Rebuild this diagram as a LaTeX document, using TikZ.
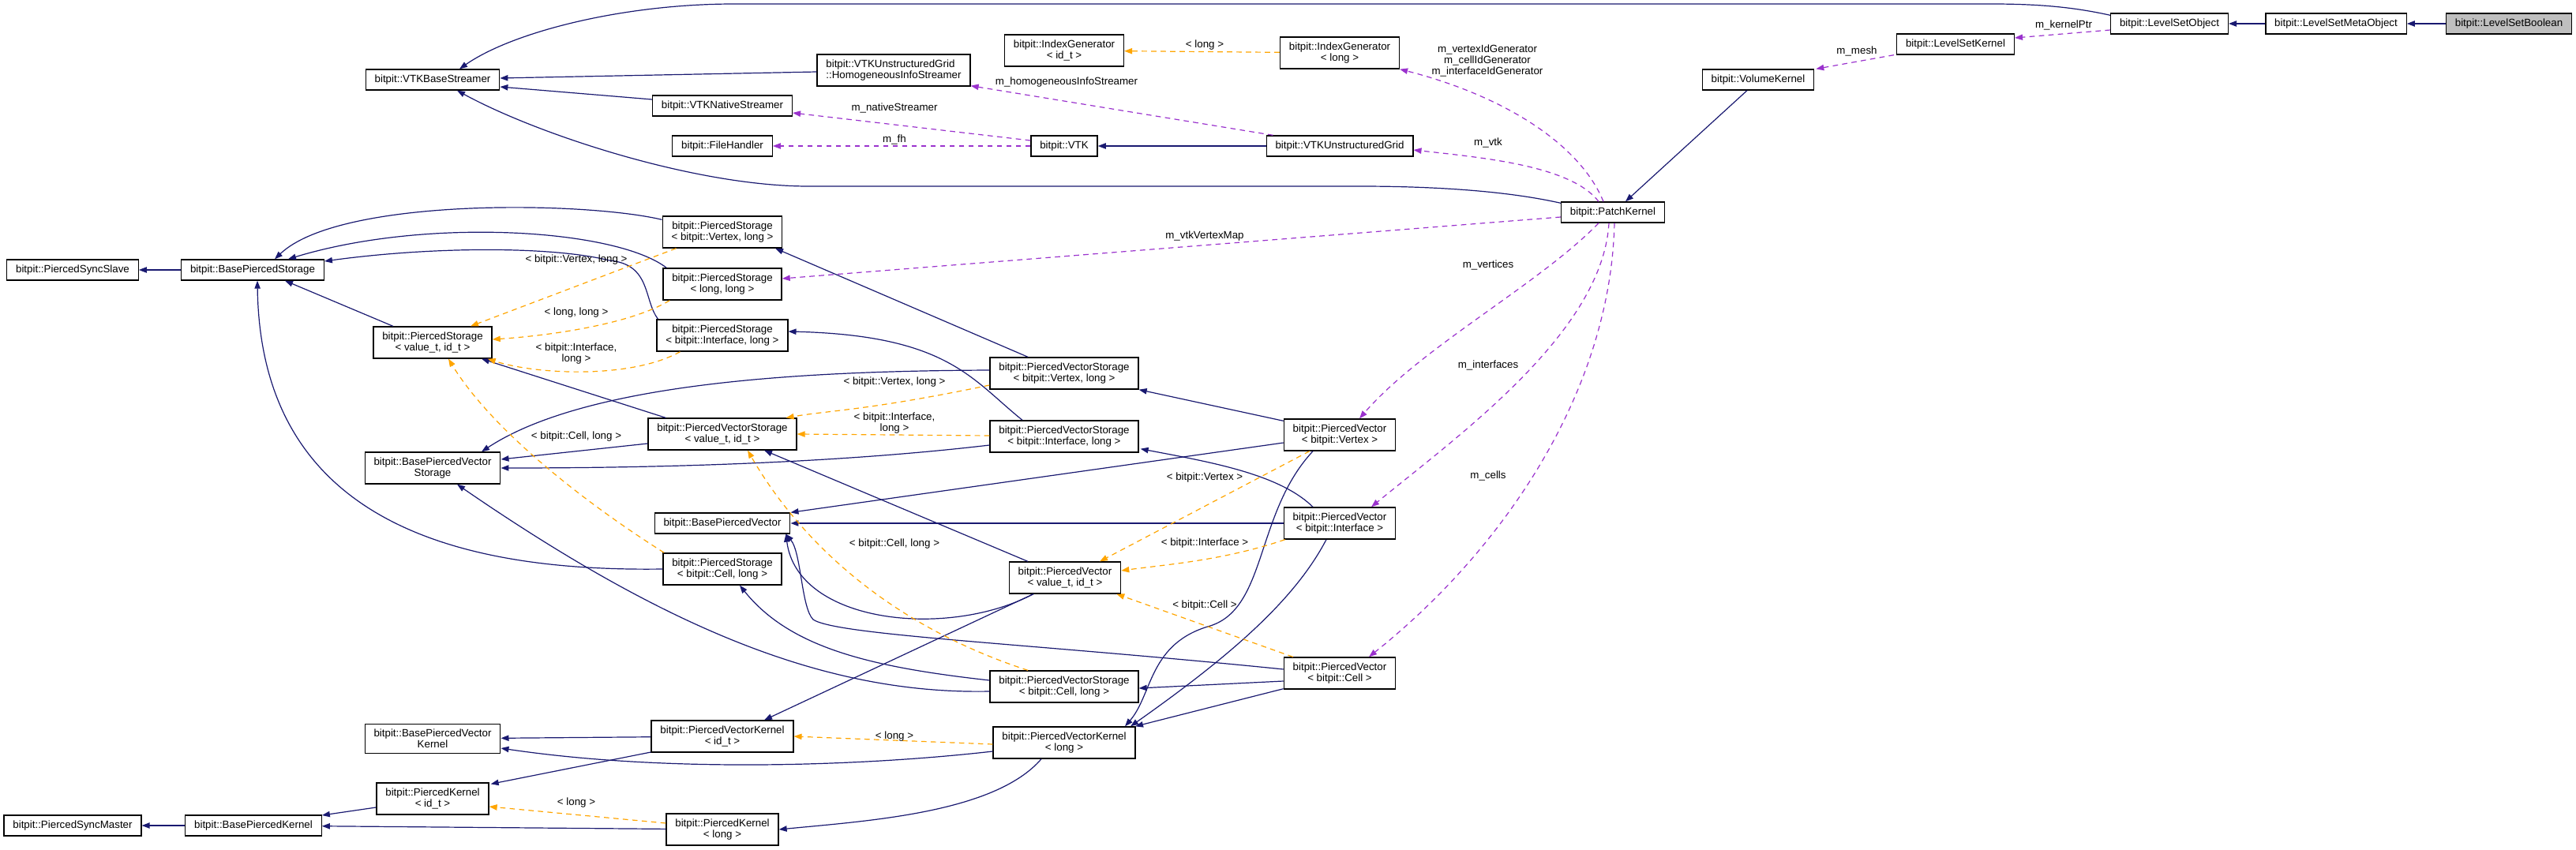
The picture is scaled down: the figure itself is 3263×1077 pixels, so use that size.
\documentclass[tikz,border=0pt]{standalone}
\usepackage{fontspec}
\setmainfont{Liberation Sans}
\usetikzlibrary{arrows.meta,calc}
\definecolor{inhblue}{RGB}{25,25,112}
\definecolor{tmplorange}{RGB}{255,165,0}
\definecolor{usepurple}{RGB}{154,50,205}
\definecolor{curgray}{RGB}{191,191,191}
\newcommand{\dgfont}{\fontsize{10}{10.7}\selectfont}

\begin{document}
\begin{tikzpicture}[x=0.75pt,y=-0.75pt,
	cls/.style={draw=black,line width=1pt,fill=white,font=\dgfont,align=center,
		inner xsep=8.5pt,inner ysep=5pt,minimum height=19.5pt},
	lbl/.style={font=\dgfont,align=center,inner sep=1pt},
	inh/.style={draw=inhblue,line width=0.9pt,-{Triangle[length=7.5pt,width=5.5pt]}},
	tmpl/.style={draw=tmplorange,line width=0.9pt,dash pattern=on 5pt off 4pt,-{Triangle[length=7.5pt,width=5.5pt]}},
	usel/.style={draw=usepurple,line width=0.9pt,dash pattern=on 5pt off 4pt,-{Triangle[length=7.5pt,width=5.5pt]}}]
	\useasboundingbox (0,0) rectangle (3263,1077);
	% classes
	\node[cls,fill=curgray] (lsbool) at (3178,30) {bitpit::LevelSetBoolean};
	\node[cls] (lsmeta) at (2959,30) {bitpit::LevelSetMetaObject};
	\node[cls] (lsobj) at (2748,30) {bitpit::LevelSetObject};
	\node[cls] (lskernel) at (2477,56) {bitpit::LevelSetKernel};
	\node[cls] (volkernel) at (2227,101) {bitpit::VolumeKernel};
	\node[cls] (patch) at (2043,269) {bitpit::PatchKernel};
	\node[cls] (idgenlong) at (1697,67) {bitpit::IndexGenerator\\< long >};
	\node[cls] (idgen) at (1348,64) {bitpit::IndexGenerator\\< id\_t >};
	\node[cls,align=left] (homstream) at (1132,89) {bitpit::VTKUnstructuredGrid\\::HomogeneousInfoStreamer};
	\node[cls] (vtkbase) at (548,101) {bitpit::VTKBaseStreamer};
	\node[cls] (native) at (915,134) {bitpit::VTKNativeStreamer};
	\node[cls] (fh) at (915,185) {bitpit::FileHandler};
	\node[cls] (vtk) at (1348,185) {bitpit::VTK};
	\node[cls] (vtkgrid) at (1697,185) {bitpit::VTKUnstructuredGrid};
	\node[cls] (syncslave) at (92,342) {bitpit::PiercedSyncSlave};
	\node[cls] (bps) at (320,342) {bitpit::BasePiercedStorage};
	\node[cls] (psvert) at (915,294) {bitpit::PiercedStorage\\< bitpit::Vertex, long >};
	\node[cls] (pslong) at (915,360) {bitpit::PiercedStorage\\< long, long >};
	\node[cls] (ps) at (548,434) {bitpit::PiercedStorage\\< value\_t, id\_t >};
	\node[cls] (psint) at (915,425) {bitpit::PiercedStorage\\< bitpit::Interface, long >};
	\node[cls] (pvsvert) at (1348,473) {bitpit::PiercedVectorStorage\\< bitpit::Vertex, long >};
	\node[cls] (pvs) at (915,550) {bitpit::PiercedVectorStorage\\< value\_t, id\_t >};
	\node[cls] (pvsint) at (1348,553) {bitpit::PiercedVectorStorage\\< bitpit::Interface, long >};
	\node[cls] (pvvert) at (1697,551) {bitpit::PiercedVector\\< bitpit::Vertex >};
	\node[cls] (bpvs) at (548,593) {bitpit::BasePiercedVector\\Storage};
	\node[cls] (bpv) at (915,663) {bitpit::BasePiercedVector};
	\node[cls] (pvint) at (1697,663) {bitpit::PiercedVector\\< bitpit::Interface >};
	\node[cls] (pscell) at (915,721) {bitpit::PiercedStorage\\< bitpit::Cell, long >};
	\node[cls] (pv) at (1349,732) {bitpit::PiercedVector\\< value\_t, id\_t >};
	\node[cls] (pvcell) at (1697,853) {bitpit::PiercedVector\\< bitpit::Cell >};
	\node[cls] (pvscell) at (1348,870) {bitpit::PiercedVectorStorage\\< bitpit::Cell, long >};
	\node[cls] (bpvk) at (548,936) {bitpit::BasePiercedVector\\Kernel};
	\node[cls] (pvk) at (915,933) {bitpit::PiercedVectorKernel\\< id\_t >};
	\node[cls] (pvklong) at (1348,941) {bitpit::PiercedVectorKernel\\< long >};
	\node[cls] (pk) at (548,1012) {bitpit::PiercedKernel\\< id\_t >};
	\node[cls] (syncmaster) at (92,1046) {bitpit::PiercedSyncMaster};
	\node[cls] (bpk) at (321,1046) {bitpit::BasePiercedKernel};
	\node[cls] (pklong) at (915,1051) {bitpit::PiercedKernel\\< long >};
	% inheritance
	\draw[inh] (lsbool) -- (lsmeta);
	\draw[inh] (lsmeta) -- (lsobj);
	\draw[inh] ($(lsobj.north west)+(0,3)$) .. controls (2600,3) and (2540,5) .. (2470,5) -- (930,5) .. controls (790,5) and (650,40) .. ($(vtkbase.north)+(34,0)$);
	\draw[inh] ($(homstream.west)+(0,2)$) -- ($(vtkbase.east)+(0,-2)$);
	\draw[inh] ($(native.west)+(0,-8)$) -- ($(vtkbase.east)+(0,9)$);
	\draw[inh] ($(patch.north west)+(0,2)$) .. controls (1900,240) and (1800,236) .. (1722,236) -- (1024,236) .. controls (880,236) and (680,170) .. ($(vtkbase.south)+(31,0)$);
	\draw[inh] (vtkgrid) -- (vtk);
	\draw[inh] ($(volkernel.south)+(-14,0)$) -- ($(patch.north)+(16,0)$);
	\draw[inh] (bps) -- (syncslave);
	\draw[inh] ($(psvert.north west)+(0,5)$) .. controls (740,255) and (430,250) .. ($(bps.north)+(28,0)$);
	\draw[inh] ($(pslong.north west)+(5,0)$) .. controls (780,290) and (540,275) .. ($(bps.north)+(45,0)$);
	\draw[inh] ($(psint.north west)+(2,0)$) .. controls (815,380) and (825,335) .. (772,330) .. controls (700,312) and (550,312) .. ($(bps.east)+(0,-11)$);
	\draw[inh] ($(ps.north)+(-50,0)$) -- ($(bps.south)+(41,0)$);
	\draw[inh] (pscell.west) .. controls (560,725) and (330,650) .. ($(bps.south)+(6,0)$);
	\draw[inh] ($(pvs.north west)+(23,0)$) -- ($(ps.south)+(62,0)$);
	\draw[inh] ($(pvs.west)+(0,12)$) -- ($(bpvs.east)+(0,-11)$);
	\draw[inh] ($(pvsvert.west)+(0,-4)$) .. controls (1050,470) and (750,480) .. ($(bpvs.north)+(62,0)$);
	\draw[inh] ($(pvsint.west)+(0,11)$) .. controls (1100,582) and (900,593) .. (bpvs.east);
	\draw[inh] ($(pvsvert.north)+(-46,0)$) -- ($(psvert.south)+(67,0)$);
	\draw[inh] ($(pvsint.north)+(-53,0)$) .. controls (1230,480) and (1200,425) .. ($(psint.east)+(0,-5)$);
	\draw[inh] ($(pvscell.west)+(0,-8)$) .. controls (1100,845) and (1000,820) .. ($(pscell.south)+(22,0)$);
	\draw[inh] ($(pvscell.west)+(0,6)$) .. controls (1050,880) and (850,800) .. ($(bpvs.south)+(31,0)$);
	\draw[inh] ($(pvvert.north west)+(0,3)$) -- (pvsvert.south east);
	\draw[inh] ($(pvvert.west)+(0,10)$) -- (bpv.north east);
	\draw[inh] ($(pvint.north)+(-34,0)$) .. controls (1620,600) and (1530,585) .. ($(pvsint.south east)+(2,-5)$);
	\draw[inh] (pvint) -- (bpv);
	\draw[inh] ($(pvcell.west)+(0,10)$) -- ($(pvscell.east)+(0,2)$);
	\draw[inh] ($(pvcell.west)+(0,-5)$) .. controls (1300,815) and (1060,805) .. (1030,785) .. controls (1015,770) and (1015,700) .. ($(bpv.south east)+(-6,0)$);
	\draw[inh] ($(pv.south)+(-40,0)$) .. controls (1200,810) and (1010,790) .. ($(bpv.south east)+(-6,0)$);
	\draw[inh] ($(pv.north)+(-47,0)$) -- ($(pvs.south)+(53,0)$);
	\draw[inh] ($(pv.south)+(-40,0)$) -- ($(pvk.north)+(53,0)$);
	\draw[inh] ($(pvvert.south)+(-34,0)$) .. controls (1590,650) and (1605,770) .. (1533,793) .. controls (1455,815) and (1460,880) .. ($(pvklong.north)+(77,0)$);
	\draw[inh] ($(pvint.south)+(-17,0)$) .. controls (1640,760) and (1560,830) .. ($(pvklong.north)+(84,0)$);
	\draw[inh] ($(pvcell.south west)+(0,-1)$) -- ($(pvklong.north)+(90,0)$);
	\draw[inh] ($(pvklong.south)+(-29,0)$) .. controls (1260,1030) and (1100,1040) .. (pklong.east);
	\draw[inh] ($(pvklong.west)+(0,11)$) .. controls (1100,970) and (850,980) .. ($(bpvk.east)+(0,12)$);
	\draw[inh] (pvk) -- (bpvk);
	\draw[inh] ($(pvk.west)+(0,20)$) -- ($(pk.north east)+(2,2)$);
	\draw[inh] ($(pk.west)+(0,11)$) -- ($(bpk.east)+(0,-13)$);
	\draw[inh] (pklong) -- (bpk);
	\draw[inh] (bpk) -- (syncmaster);
	% template instances
	\draw[tmpl] (idgenlong) -- (idgen);
	\draw[tmpl] ($(psvert.south west)+(18,0)$) -- ($(ps.north)+(48,0)$);
	\draw[tmpl] ($(pslong.south west)+(9,0)$) .. controls (800,410) and (700,425) .. ($(ps.east)+(0,-4)$);
	\draw[tmpl] ($(psint.south west)+(30,0)$) .. controls (800,480) and (680,475) .. ($(ps.south east)+(-6,0)$);
	\draw[tmpl] ($(pscell.north west)+(2,0)$) .. controls (730,630) and (620,540) .. ($(ps.south)+(20,0)$);
	\draw[tmpl] ($(pvsvert.west)+(0,15)$) .. controls (1100,520) and (1050,520) .. ($(pvs.north east)+(-14,0)$);
	\draw[tmpl] ($(pvsint.west)+(0,-1)$) -- (pvs.east);
	\draw[tmpl] ($(pvscell.north)+(-46,0)$) .. controls (1120,790) and (1010,680) .. ($(pvs.south)+(32,0)$);
	\draw[tmpl] ($(pvvert.south west)+(33,0)$) -- ($(pv.north)+(44,0)$);
	\draw[tmpl] ($(pvint.south west)+(2,0)$) .. controls (1550,710) and (1480,715) .. ($(pv.east)+(0,-9)$);
	\draw[tmpl] ($(pvcell.north west)+(12,0)$) -- ($(pv.south east)+(-6,0)$);
	\draw[tmpl] ($(pvklong.west)+(0,2)$) -- (pvk.east);
	\draw[tmpl] ($(pklong.west)+(0,-8)$) -- ($(pk.east)+(0,10)$);
	% members
	\draw[usel] ($(lsobj.west)+(0,8)$) -- ($(lskernel.east)+(0,-8)$);
	\draw[usel] ($(lskernel.south west)+(-3,0)$) -- ($(volkernel.north east)+(2,0)$);
	\draw[usel] ($(patch.north)+(-12,0)$) .. controls (2000,180) and (1900,120) .. (idgenlong.south east);
	\draw[usel] ($(patch.north)+(-18,0)$) .. controls (1990,210) and (1880,200) .. ($(vtkgrid.east)+(0,5)$);
	\draw[usel] ($(vtkgrid.north west)+(9,0)$) -- ($(homstream.south east)+(0,-1)$);
	\draw[usel] ($(vtk.west)+(0,-7)$) -- ($(native.east)+(0,9)$);
	\draw[usel] (vtk) -- (fh);
	\draw[usel] ($(patch.west)+(0,6)$) -- ($(pslong.east)+(0,-7)$);
	\draw[usel] ($(patch.south)+(-18,0)$) .. controls (1950,360) and (1800,440) .. ($(pvvert.north)+(25,0)$);
	\draw[usel] ($(patch.south)+(-5,0)$) .. controls (2030,420) and (1850,550) .. ($(pvint.north)+(40,0)$);
	\draw[usel] ($(patch.south)+(2,0)$) .. controls (2040,500) and (1900,700) .. ($(pvcell.north)+(37,0)$);
	% labels
	\node[lbl] (lbkern) at (2614,32) {m\_kernelPtr};
	\node[lbl] (lbmesh) at (2352,65) {m\_mesh};
	\node[lbl] (lbidgen) at (1884,77) {m\_vertexIdGenerator\\m\_cellIdGenerator\\m\_interfaceIdGenerator};
	\node[lbl] (lbvtk) at (1885,181) {m\_vtk};
	\node[lbl] (lbhom) at (1351,104) {m\_homogeneousInfoStreamer};
	\node[lbl] (lbnat) at (1133,137) {m\_nativeStreamer};
	\node[lbl] (lbfh) at (1133,177) {m\_fh};
	\node[lbl] (lbmap) at (1526,299) {m\_vtkVertexMap};
	\node[lbl] (lbvert) at (1885,336) {m\_vertices};
	\node[lbl] (lbint) at (1885,463) {m\_interfaces};
	\node[lbl] (lbcell) at (1885,603) {m\_cells};
	\node[lbl] (lbidg) at (1526,57) {< long >};
	\node[lbl] (lbpsv) at (730,329) {< bitpit::Vertex, long >};
	\node[lbl] (lbpsl) at (730,396) {< long, long >};
	\node[lbl] (lbpsi) at (730,448) {< bitpit::Interface,\\long >};
	\node[lbl] (lbpsc) at (730,553) {< bitpit::Cell, long >};
	\node[lbl] (lbpvsv) at (1133,484) {< bitpit::Vertex, long >};
	\node[lbl] (lbpvsi) at (1133,536) {< bitpit::Interface,\\long >};
	\node[lbl] (lbpvsc) at (1133,689) {< bitpit::Cell, long >};
	\node[lbl] (lbpvv) at (1526,605) {< bitpit::Vertex >};
	\node[lbl] (lbpvi) at (1526,688) {< bitpit::Interface >};
	\node[lbl] (lbpvc) at (1526,767) {< bitpit::Cell >};
	\node[lbl] (lbpvk) at (1133,933) {< long >};
	\node[lbl] (lbpk) at (730,1017) {< long >};
\end{tikzpicture}
\end{document}
